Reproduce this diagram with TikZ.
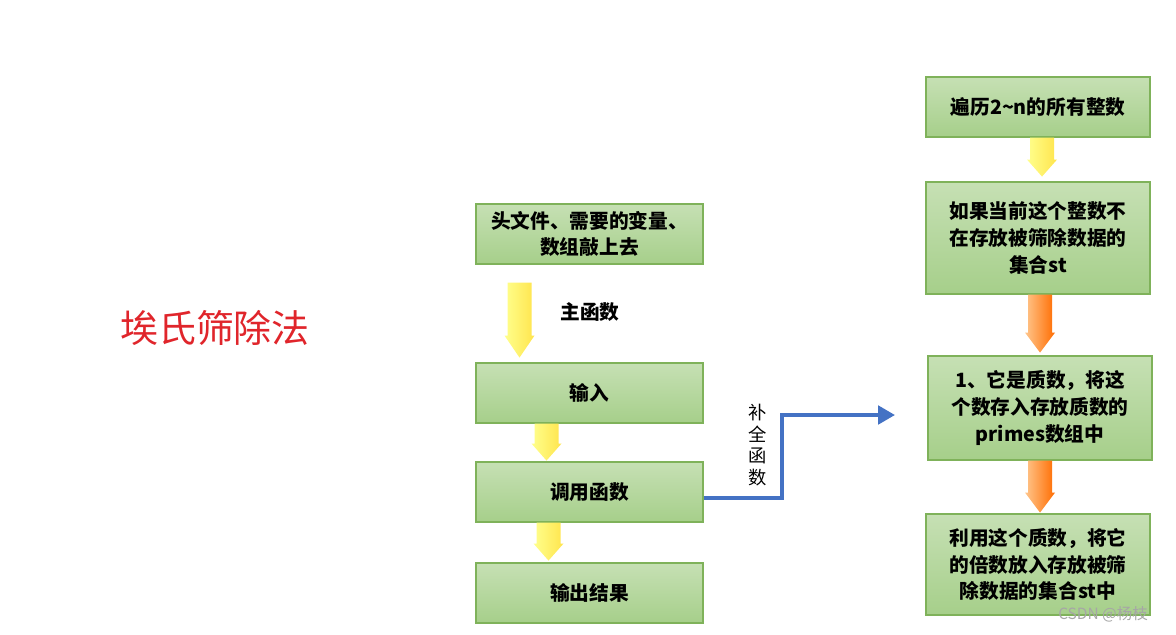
\documentclass[tikz,border=0pt]{standalone}
\usepackage{fontspec}
\newfontfamily\cjk{Noto Sans CJK SC}
\usetikzlibrary{positioning,calc,arrows.meta}
\definecolor{boxline}{HTML}{7FB25A}
\definecolor{boxtop}{HTML}{C6E0B4}
\definecolor{boxbot}{HTML}{A6CF8A}
\definecolor{flowblue}{HTML}{4472C4}
\definecolor{titlered}{HTML}{E0252B}
% block arrow: top point, length, head length, shading
\newcommand{\blockarr}[4]{%
  \shade[#4] (#1) ++(-12,0) -- ++(0,#2-#3) -- ++(-3,0) -- ++(15,#3)
    -- ++(15,-#3) -- ++(-3,0) -- ++(0,-#2+#3) -- cycle;}
\tikzset{
  stepbox/.style={draw=boxline, line width=0.8pt, top color=boxtop, bottom color=boxbot,
    font=\cjk\bfseries\fontsize{14}{19}\selectfont, align=center, inner sep=2pt},
  yarr/.style={left color=yellow!45!white, right color=orange!30!yellow!70!white, draw=none},
  oarr/.style={left color=orange!45!white, right color=orange!85!red, draw=none},
}
\begin{document}
\begin{tikzpicture}[x=0.025cm,y=-0.025cm]
  \useasboundingbox (0,0) rectangle (1176,634);
  % title
  \node[text=titlered, font=\cjk\fontsize{27}{30}\selectfont] (title) at (215,328) {埃氏筛除法};
  % left column
  \node[stepbox, minimum width=5.675cm, minimum height=1.5cm] (head) at (589.5,234) {头文件、需要的变量、\\数组敲上去};
  \node[stepbox, minimum width=5.675cm, minimum height=1.5cm] (input) at (589.5,393) {输入};
  \node[stepbox, minimum width=5.675cm, minimum height=1.5cm] (call) at (589.5,492) {调用函数};
  \node[stepbox, minimum width=5.675cm, minimum height=1.5cm] (output) at (589.5,593) {输出结果};
  \node[font=\cjk\bfseries\fontsize{14}{17}\selectfont] (mainf) at (590,312) {主函数};
  \blockarr{$(head.south)+(-70,18)$}{75}{22}{yarr}
  \blockarr{$(input.south)+(-43,0)$}{37}{17}{yarr}
  \blockarr{$(call.south)+(-41,0)$}{38}{17}{yarr}
  % right column
  \node[stepbox, minimum width=5.6cm, minimum height=1.5cm] (loop) at (1038,107) {遍历2\textasciitilde n的所有整数};
  \node[stepbox, minimum width=5.6cm, minimum height=2.8cm] (check) at (1038,238) {如果当前这个整数不\\在存放被筛除数据的\\集合st};
  \node[stepbox, minimum width=5.6cm, minimum height=2.6cm] (prime) at (1040,408) {1、它是质数，将这\\个数存入存放质数的\\primes数组中};
  \node[stepbox, minimum width=5.6cm, minimum height=2.525cm] (sieve) at (1038,564.5) {利用这个质数，将它\\的倍数放入存放被筛\\除数据的集合st中};
  \blockarr{$(loop.south)+(4,0)$}{39}{17}{yarr}
  \blockarr{$(check.south)+(2,0)$}{58}{20}{oarr}
  \blockarr{$(prime.south)+(0,0)$}{52}{20}{oarr}
  % link
  \coordinate (tip) at (895,415);
  \draw[flowblue, line width=2.8pt, -{Triangle[length=12pt,width=13pt]}]
    (call.east |- 0,498) -- (782,498) -- (782,415) -- (tip);
  \node[font=\cjk\fontsize{13}{15.5}\selectfont, align=center] (fill) at (758,445) {补\\全\\函\\数};
  \node[text=gray!70, font=\cjk\fontsize{11}{13}\selectfont] (mark) at (1103,614) {CSDN @杨枝};
\end{tikzpicture}
\end{document}
